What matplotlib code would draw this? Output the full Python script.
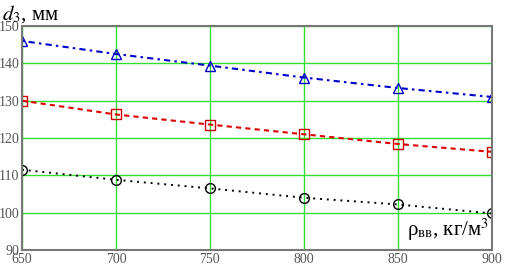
import matplotlib.pyplot as plt

rho = [650, 700, 750, 800, 850, 900]
d_tri = [146.0, 142.5, 139.4, 136.2, 133.4, 131.0]
d_sq = [130.0, 126.3, 123.6, 121.0, 118.4, 116.3]
d_circ = [111.5, 108.8, 106.5, 104.0, 102.2, 99.8]

xticks = [650, 700, 750, 800, 850, 900]
yticks = [90, 100, 110, 120, 130, 140, 150]

plt.rcParams['font.family'] = ['Liberation Serif', 'DejaVu Serif']
plt.rcParams['mathtext.fontset'] = 'stix'

fig = plt.figure(figsize=(5.07, 2.71), dpi=100)
ax = fig.add_axes([0.0434, 0.0775, 0.9266, 0.8265])

ax.plot(rho, d_tri, color='#0000cc', ls=(0, (1.2, 2, 3, 2)), lw=1.5,
        marker='^', ms=7, mfc='none', mec='#0000cc', mew=1)
ax.plot(rho, d_sq, color='#dd0000', ls=(0, (2.5, 2)), lw=1.5,
        marker='s', ms=7, mfc='none', mec='#cc0000', mew=1)
ax.plot(rho, d_circ, color='black', ls=(0, (1, 2.5)), lw=1.4,
        marker='o', ms=7, mfc='none', mec='black', mew=1)

ax.set_xlim(650, 900)
ax.set_ylim(90, 150)
ax.set_xticks(xticks)
ax.set_yticks(yticks)
ax.grid(True, color='#33dd33', lw=1)
ax.set_axisbelow(True)
ax.tick_params(length=0, labelsize=10, colors='#555555', pad=2)
for s in ax.spines.values():
    s.set_color('#777777')
    s.set_linewidth(1.5)

fig.text(0.003, 0.99, r'$d_3$, мм', fontsize=15, va='top', ha='left')
ax.text(0.995, 0.03, r'ρ$_{\mathrm{вв}}$, кг/м$^3$', transform=ax.transAxes,
        fontsize=15, ha='right', va='bottom')

fig.savefig('out.png', dpi=100)
